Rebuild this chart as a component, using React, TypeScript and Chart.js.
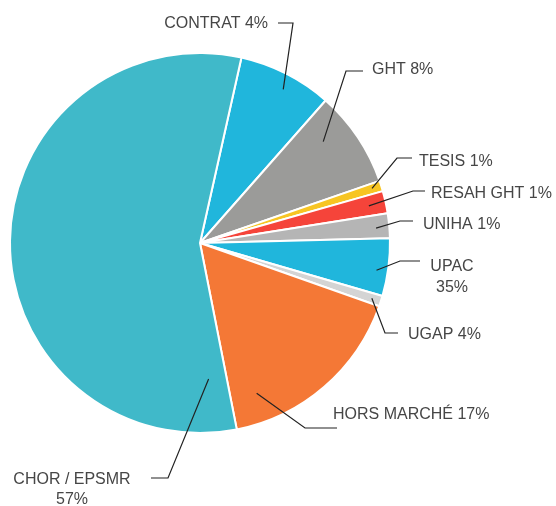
import React, { useEffect, useRef } from "react";
import { Chart, registerables } from "chart.js";

Chart.register(...registerables);

const categories = ["CONTRAT", "GHT", "TESIS", "RESAH GHT", "UNIHA", "UPAC", "UGAP", "HORS MARCHÉ", "CHOR / EPSMR"];
const sliceValues = [8.0, 8.2, 0.9, 1.9, 2.1, 4.9, 0.9, 16.5, 56.6];
const labelTexts = ["CONTRAT 4%", "GHT 8%", "TESIS 1%", "RESAH GHT 1%", "UNIHA 1%", "UPAC\n35%", "UGAP 4%", "HORS MARCHÉ 17%", "CHOR / EPSMR\n57%"];
const sliceColors = ["#20b6dc", "#9b9b99", "#f7c523", "#f5443a", "#b5b5b5", "#20b6dc", "#d4d4d4", "#f47836", "#40b9c9"];

// leader-line layout: t = position along slice angle, f = radius fraction of anchor,
// elbow / end of horizontal segment / text position relative to pie centre
const leaderLayout = [
  { t: 0.55, f: 0.92, ex: 93, ey: -220, hx: 78, tx: 68, ty: -221, align: "right" },
  { t: 0.31, f: 0.84, ex: 146, ey: -172, hx: 163, tx: 172, ty: -175, align: "left" },
  { t: 0.45, f: 0.95, ex: 197, ey: -85, hx: 212, tx: 219, ty: -82.5, align: "left" },
  { t: 0.5, f: 0.91, ex: 213, ey: -52, hx: 225, tx: 231, ty: -51, align: "left" },
  { t: 0.55, f: 0.93, ex: 200, ey: -22, hx: 213, tx: 223, ty: -20, align: "left" },
  { t: 0.58, f: 0.94, ex: 200, ey: 18, hx: 220, tx: 252, ty: 22.5, align: "center" },
  { t: 0.5, f: 0.95, ex: 185, ey: 90, hx: 198, tx: 208, ty: 90, align: "left" },
  { t: 0.84, f: 0.845, ex: 105, ey: 185, hx: 137, tx: 133, ty: 170, align: "left" },
  { t: 0.037, f: 0.717, ex: -32, ey: 235, hx: -49, tx: -128, ty: 235, align: "center" },
];

const FONT_SIZE = 16;
const FONT = `${FONT_SIZE}px "Liberation Sans", Arial, sans-serif`;

const leaderPlugin = {
  id: "leaderLabels",
  afterDraw(chart: any) {
    const ctx = chart.ctx;
    const meta = chart.getDatasetMeta(0);
    ctx.save();
    meta.data.forEach((arc: any, i: number) => {
      const L = leaderLayout[i];
      if (!L) return;
      const p = arc.getProps(["x", "y", "startAngle", "endAngle", "outerRadius"], true);
      const a = p.startAngle + L.t * (p.endAngle - p.startAngle);
      const ax = p.x + Math.cos(a) * L.f * p.outerRadius;
      const ay = p.y + Math.sin(a) * L.f * p.outerRadius;
      ctx.beginPath();
      ctx.strokeStyle = "#222";
      ctx.lineWidth = 1.2;
      ctx.moveTo(ax, ay);
      ctx.lineTo(p.x + L.ex, p.y + L.ey);
      ctx.lineTo(p.x + L.hx, p.y + L.ey);
      ctx.stroke();
      ctx.fillStyle = "#464646";
      ctx.font = FONT;
      ctx.textAlign = L.align;
      ctx.textBaseline = "alphabetic";
      const lines = labelTexts[i].split("\n");
      lines.forEach((line, k) => {
        ctx.fillText(line, p.x + L.tx, p.y + L.ty + k * 20.5 + FONT_SIZE * 0.36);
      });
    });
    ctx.restore();
  },
};

export default function App() {
  const ref = useRef<HTMLCanvasElement>(null);
  useEffect(() => {
    if (!ref.current) return;
    const chart = new Chart(ref.current, {
      type: "pie",
      data: {
        labels: categories,
        datasets: [
          {
            data: sliceValues,
            backgroundColor: sliceColors,
            borderColor: "#ffffff",
            borderWidth: 2,
          },
        ],
      },
      options: {
        responsive: false,
        animation: false,
        rotation: 12.6,
        layout: { padding: { left: 9, right: 165, top: 52, bottom: 72 } },
        plugins: {
          legend: { display: false },
          tooltip: { enabled: false },
        },
      },
      plugins: [leaderPlugin],
    });
    return () => chart.destroy();
  }, []);
  return (
    <div style={{ position: "absolute", left: 0, top: 0, width: 556, height: 506, background: "#fff" }}>
      <canvas ref={ref} width={556} height={506} />
    </div>
  );
}
